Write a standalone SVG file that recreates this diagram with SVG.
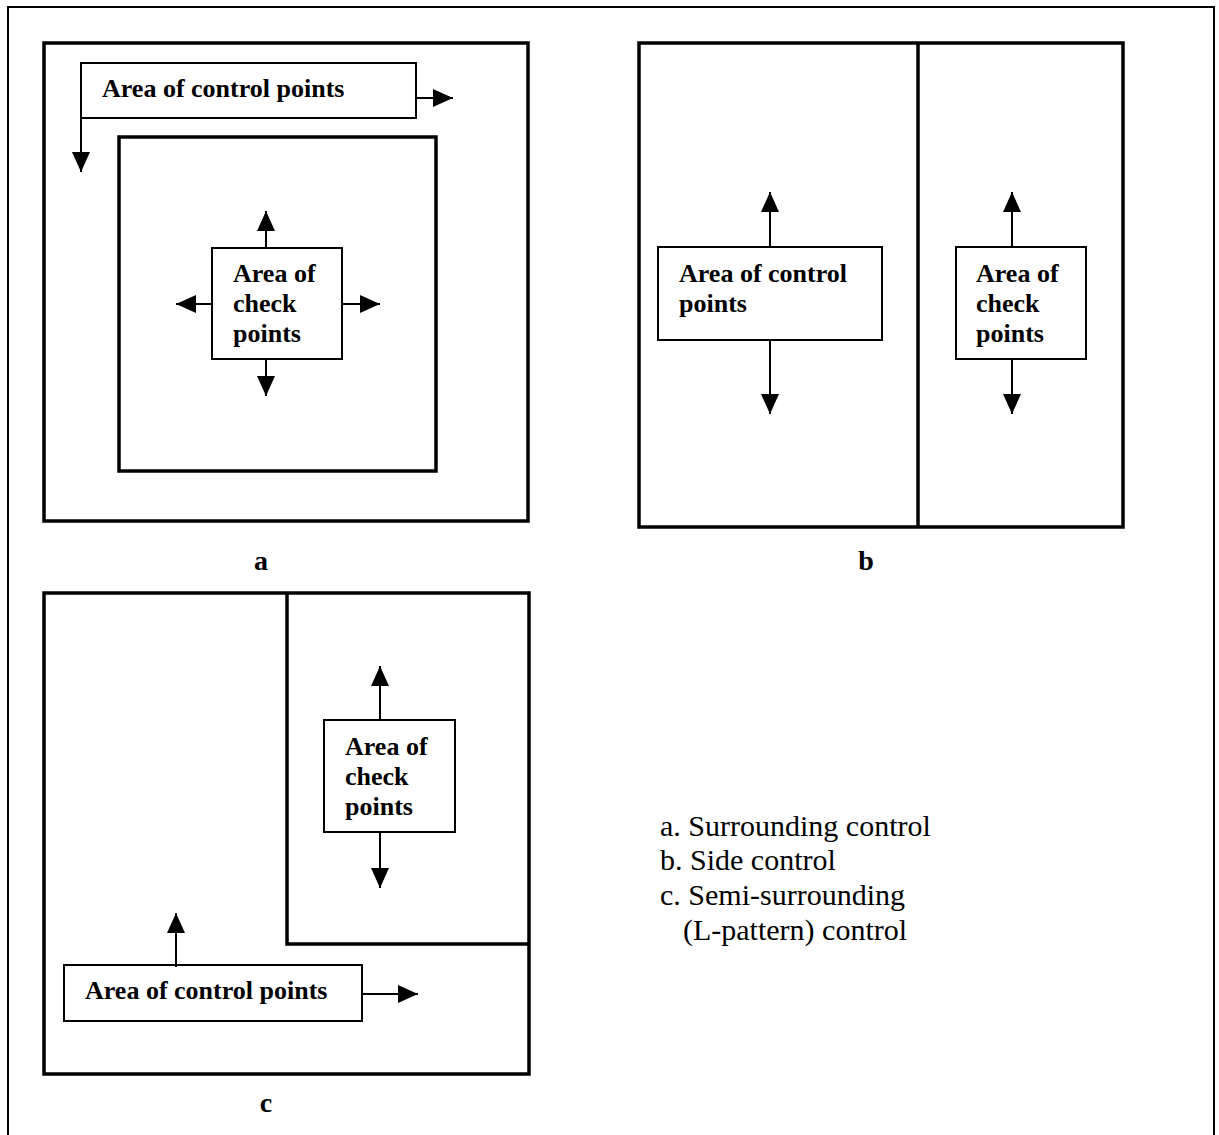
<svg xmlns="http://www.w3.org/2000/svg" width="1219" height="1135" viewBox="0 0 1219 1135">
<style>
.panel{fill:none;stroke:#000;stroke-width:3.5}
.box{fill:#fff;stroke:#000;stroke-width:2}
.lbl{font-family:"Liberation Serif","Times New Roman",serif;font-weight:bold;font-size:26px;fill:#000}
.cap{font-family:"Liberation Serif","Times New Roman",serif;font-weight:bold;font-size:28px;fill:#000;text-anchor:middle}
.leg{font-family:"Liberation Serif","Times New Roman",serif;font-size:30px;fill:#000}
.conn line{stroke:#000;stroke-width:2;marker-end:url(#ah)}
</style>
<defs>
<marker id="ah" markerWidth="20" markerHeight="18" refX="20" refY="9" orient="auto" markerUnits="userSpaceOnUse">
<path d="M0,0 L20,9 L0,18 z" fill="#000"/>
</marker>
</defs>
<rect width="1219" height="1135" fill="#fff"/>
<path d="M8,1135 V7 H1214 V1135" fill="none" stroke="#000" stroke-width="2"/>

<!-- Panel a -->
<g id="panel-a">
<rect class="panel" x="44" y="43" width="484" height="478"/>
<rect class="panel" x="119" y="137" width="317" height="334"/>
<text class="cap" x="261" y="570">a</text>
</g>
<g id="a-control">
<rect class="box" x="81" y="63" width="335" height="55"/>
<text class="lbl" x="102" y="97">Area of control points</text>
</g>
<g id="a-check">
<rect class="box" x="212" y="248" width="130" height="111"/>
<text class="lbl" x="233" y="282">Area of</text>
<text class="lbl" x="233" y="312">check</text>
<text class="lbl" x="233" y="342">points</text>
</g>

<!-- Panel b -->
<g id="panel-b">
<rect class="panel" x="639" y="43" width="484" height="484"/>
<line x1="918" y1="43" x2="918" y2="527" stroke="#000" stroke-width="3.5"/>
<text class="cap" x="866" y="570">b</text>
</g>
<g id="b-control">
<rect class="box" x="658" y="247" width="224" height="93"/>
<text class="lbl" x="679" y="282">Area of control</text>
<text class="lbl" x="679" y="312">points</text>
</g>
<g id="b-check">
<rect class="box" x="956" y="247" width="130" height="112"/>
<text class="lbl" x="976" y="282">Area of</text>
<text class="lbl" x="976" y="312">check</text>
<text class="lbl" x="976" y="342">points</text>
</g>

<!-- Panel c -->
<g id="panel-c">
<rect class="panel" x="44" y="593" width="485" height="481"/>
<path d="M287,593 V944 H529" fill="none" stroke="#000" stroke-width="3.5"/>
<text class="cap" x="266" y="1112">c</text>
</g>
<g id="c-check">
<rect class="box" x="324" y="720" width="131" height="112"/>
<text class="lbl" x="345" y="755">Area of</text>
<text class="lbl" x="345" y="785">check</text>
<text class="lbl" x="345" y="815">points</text>
</g>
<g id="c-control">
<rect class="box" x="64" y="965" width="298" height="56"/>
<text class="lbl" x="85" y="999">Area of control points</text>
</g>

<!-- Legend -->
<g id="legend">
<text class="leg" x="660" y="836">a. Surrounding control</text>
<text class="leg" x="660" y="870">b. Side control</text>
<text class="leg" x="660" y="905">c. Semi-surrounding</text>
<text class="leg" x="683" y="940">(L-pattern) control</text>
</g>

<g id="connectors" class="conn">
<line x1="416" y1="98" x2="453" y2="98"/>
<line x1="81" y1="118" x2="81" y2="172"/>
<line x1="266" y1="248" x2="266" y2="211"/>
<line x1="266" y1="359" x2="266" y2="396"/>
<line x1="212" y1="304" x2="176" y2="304"/>
<line x1="342" y1="304" x2="380" y2="304"/>
<line x1="770" y1="247" x2="770" y2="192"/>
<line x1="770" y1="340" x2="770" y2="414"/>
<line x1="1012" y1="247" x2="1012" y2="192"/>
<line x1="1012" y1="359" x2="1012" y2="414"/>
<line x1="380" y1="720" x2="380" y2="666"/>
<line x1="380" y1="832" x2="380" y2="888"/>
<line x1="176" y1="967" x2="176" y2="913"/>
<line x1="362" y1="994" x2="418" y2="994"/>
</g>
</svg>
